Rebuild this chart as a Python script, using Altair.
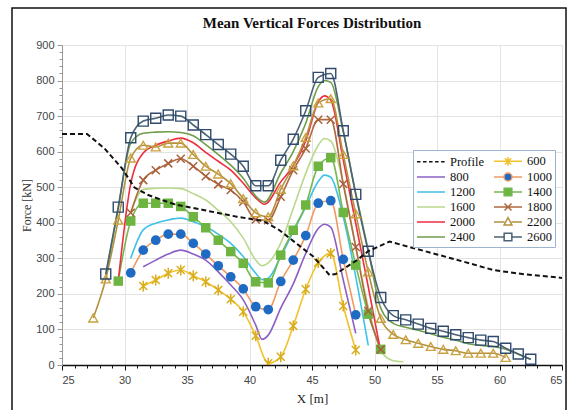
import altair as alt
import pandas as pd

# ---------------- data ----------------
series_names = ["Profile", "600", "800", "1000", "1200", "1400",
                "1600", "1800", "2000", "2200", "2400", "2600"]

profile_x = [25, 27, 28.4, 29.8, 30.8, 31.9, 33, 34, 36.3, 39, 41.1, 42.4, 44, 45.1,
             46.4, 46.9, 48.6, 49.5, 51.2, 53, 55, 57.6, 59.5, 62, 65]
profile_y = [650, 650, 609, 553, 499, 478, 464, 452, 436, 417, 405, 379, 335, 305,
             253, 256, 295, 320, 347, 330, 311, 286, 267, 255, 245]

s600_x = [31.5, 32.5, 33.5, 34.5, 35.5, 36.5, 37.5, 38.5, 39.5, 40.5, 41.5, 42.5,
          43.5, 44.5, 45.5, 46.5, 47.5, 48.5]
s600_y = [222, 239, 258, 267, 251, 234, 211, 185, 150, 82, 5, 23,
          110, 213, 288, 314, 166, 42]

s800_x = [31.5, 32.5, 33.5, 34.5, 35.5, 36.5, 37.5, 38.5, 39.5, 40.5, 41, 41.5,
          42.5, 43.5, 44.5, 45.5, 46, 46.5, 47.5, 48.5]
s800_y = [276, 295, 312, 323, 312, 295, 262, 225, 183, 112, 72, 84,
          160, 228, 314, 384, 396, 388, 239, 89]

s1000_x = [30.5, 31.5, 32.5, 33.5, 34.5, 35.5, 36.5, 37.5, 38.5, 39.5, 40.5, 41.5,
           42.5, 43.5, 44.5, 45.5, 46.5, 47.5, 48.5]
s1000_y = [259, 323, 351, 368, 368, 342, 312, 279, 248, 214, 164, 156,
           235, 295, 364, 455, 462, 297, 141]

s1200_x = [30.5, 31.5, 32.5, 33.5, 34.5, 35.5, 36.5, 37.5, 38.5, 39.5, 40.5, 41,
           41.5, 42.5, 43.5, 44.5, 45.5, 46, 46.5, 47.5, 48.5, 49.5]
s1200_y = [300, 380, 399, 408, 413, 403, 389, 368, 342, 305, 258, 240,
           244, 305, 375, 445, 516, 534, 528, 417, 248, 55]

s1400_x = [29.5, 30.5, 31.5, 32.5, 33.5, 34.5, 35.5, 36.5, 37.5, 38.5, 39.5, 40.5,
           41.5, 42.5, 43.5, 44.5, 45.5, 46.5, 47.5, 48.5, 49.5, 50.5]
s1400_y = [236, 405, 455, 455, 455, 446, 417, 386, 351, 319, 286, 234,
           231, 309, 379, 450, 559, 583, 429, 281, 143, 44]

s1600_x = [30.5, 31.5, 32.5, 33.5, 34.5, 35.5, 36.5, 37.5, 38.5, 39.5, 40.5, 41,
           41.5, 42.5, 43.5, 44.5, 45.5, 46, 46.5, 47.5, 48.5, 49.5, 50.5, 51.5, 52.3]
s1600_y = [430, 494, 497, 498, 496, 482, 464, 435, 403, 357, 295, 279,
           287, 343, 440, 539, 618, 637, 630, 511, 333, 164, 40, 12, 9]

s1800_x = [30.5, 31.5, 32.5, 33.5, 34.5, 35.5, 36.5, 37.5, 38.5, 39.5, 40.5, 41.5,
           42.5, 43.5, 44.5, 45.5, 46.5, 47.5, 48.5, 49.5, 50.5]
s1800_y = [428, 520, 548, 567, 580, 559, 531, 508, 492, 459, 409, 407,
           473, 548, 609, 690, 690, 509, 332, 152, 44]

s2000_x = [29.5, 30.5, 31.5, 32.5, 33.5, 34.5, 35.5, 36.5, 37.5, 38.5, 39.5, 40.5,
           41.2, 42.5, 43.5, 44.5, 45.5, 46, 46.5, 47.5, 48.5, 49.5, 50.5]
s2000_y = [236, 510, 596, 618, 630, 638, 625, 598, 573, 548, 511, 470,
           452, 515, 560, 630, 740, 757, 745, 576, 398, 220, 37]

s2200_x = [27.5, 28.5, 29.5, 30.5, 31.5, 32.5, 33.5, 34.5, 35.5, 36.5, 37.5, 38.5,
           39.5, 40.5, 41.5, 42.5, 43.5, 44.5, 45.5, 46.5, 47.5, 48.5, 49.5, 50.5,
           51.5, 52.5, 53.5, 54.5, 55.5, 56.5, 57.5, 58.5, 59.5, 60.5]
s2200_y = [132, 242, 407, 582, 618, 613, 624, 624, 592, 559, 537, 510,
           468, 428, 417, 494, 560, 640, 737, 749, 592, 425, 262, 131,
           86, 71, 61, 52, 44, 40, 33, 33, 33, 21]

s2400_x = [28.5, 29.5, 30.5, 31.5, 32.5, 33.5, 34.5, 35.5, 36.5, 37.5, 38.5, 39.5,
           40.5, 41.2, 42.5, 43.5, 44.5, 45.5, 46, 46.5, 47.5, 48.5, 49.5, 50.5,
           51.5, 52.5, 53.5, 54.5, 55.5, 56.5, 57.5, 58.5, 59.5, 60.5, 61.5, 62.5]
s2400_y = [250, 440, 624, 652, 655, 656, 654, 645, 620, 592, 562, 525,
           475, 458, 540, 600, 680, 783, 800, 795, 656, 483, 323, 160,
           117, 106, 98, 88, 78, 70, 60, 55, 52, 44, 30, 16]

s2600_x = [28.5, 29.5, 30.5, 31.5, 32.5, 33.5, 34.5, 35.5, 36.5, 37.5, 38.5, 39.5,
           40.5, 41.5, 42.5, 43.5, 44.5, 45.5, 46.5, 47.5, 48.5, 49.5, 50.5, 51.5,
           52.5, 53.5, 54.5, 55.5, 56.5, 57.5, 58.5, 59.5, 60.5, 61.5, 62.5]
s2600_y = [256, 444, 639, 686, 694, 703, 700, 675, 648, 620, 593, 559,
           504, 504, 576, 635, 715, 809, 820, 659, 480, 320, 190, 139,
           127, 115, 103, 95, 85, 77, 70, 66, 47, 31, 16]

# ---------------- styles ----------------
line_colors = ["#111111", "#f2c12e", "#8b5fc4", "#f09a62", "#3fc1e8", "#74b94f",
               "#b8d98c", "#b0683f", "#ef2d40", "#b3913f", "#6f9e4a", "#4b6275"]
legend_fill = ["transparent", "transparent", "transparent", "#1f6bc4", "transparent",
               "#6db540", "transparent", "transparent", "transparent", "transparent",
               "transparent", "transparent"]

# legend symbol paths (unit = 7 px; horizontal span -2..2 = 28 px)
P_LINE = "M-2,0H2"
P_DASH = "M-2,0H-1.5M-1.14,0H-0.64M-0.28,0H0.22M0.58,0H1.08M1.44,0H1.94"
P_AST = "M-2,0H2M-0.45,-0.45L0.45,0.45M-0.45,0.45L0.45,-0.45M0,-0.62V0.62"
P_CIRC = "M-2,0H-0.57M0.57,0H2M0.57,0A0.57,0.57 0 1,1 -0.57,0A0.57,0.57 0 1,1 0.57,0Z"
P_SQ = "M-2,0H-0.55M0.55,0H2M-0.55,-0.55H0.55V0.55H-0.55Z"
P_X = "M-2,0H2M-0.5,-0.5L0.5,0.5M-0.5,0.5L0.5,-0.5"
P_TRI = "M-2,0H-0.5M0.5,0H2M0,-0.62L0.56,0.42L-0.56,0.42Z"
legend_shapes = [P_DASH, P_AST, P_LINE, P_CIRC, P_LINE, P_SQ,
                 P_LINE, P_X, P_LINE, P_TRI, P_LINE, P_SQ]

series_data = [
    ("Profile", profile_x, profile_y), ("600", s600_x, s600_y), ("800", s800_x, s800_y),
    ("1000", s1000_x, s1000_y), ("1200", s1200_x, s1200_y), ("1400", s1400_x, s1400_y),
    ("1600", s1600_x, s1600_y), ("1800", s1800_x, s1800_y), ("2000", s2000_x, s2000_y),
    ("2200", s2200_x, s2200_y), ("2400", s2400_x, s2400_y), ("2600", s2600_x, s2600_y),
]
rows = []
for name, xs, ys in series_data:
    for xv, yv in zip(xs, ys):
        rows.append({"series": name, "x": xv, "y": yv})
df = pd.DataFrame(rows)

legend_df = pd.DataFrame({"series": series_names, "x": [-100] * len(series_names),
                          "y": [0] * len(series_names)})

# ---------------- encodings ----------------
x_axis = alt.Axis(
    values=list(range(25, 66)),
    labelExpr="datum.value % 5 == 0 ? datum.label : ''",
    tickSize={"condition": {"test": "datum.value % 5 == 0", "value": 5}, "value": 3},
    gridOpacity={"condition": {"test": "datum.value % 5 == 0", "value": 1}, "value": 0},
    gridColor="#e3e3e3", domainColor="#111111", domainWidth=1.6, tickColor="#111111",
    labelFont="Liberation Sans", labelFontSize=11, labelColor="#444444", labelPadding=4,
    labelOverlap=False, titleFont="Liberation Serif", titleFontSize=13,
    titleFontWeight="normal", titleColor="#222222", titlePadding=7,
)
y_axis = alt.Axis(
    values=list(range(0, 901, 20)),
    labelExpr="datum.value % 100 == 0 ? datum.label : ''",
    tickSize={"condition": {"test": "datum.value % 100 == 0", "value": 5}, "value": 3},
    gridOpacity={"condition": {"test": "datum.value % 100 == 0", "value": 1}, "value": 0},
    gridColor="#e3e3e3", domainColor="#999999", tickColor="#999999",
    labelFont="Liberation Sans", labelFontSize=11, labelColor="#444444", labelPadding=3,
    labelOverlap=False, titleFont="Liberation Serif", titleFontSize=12,
    titleFontWeight="normal", titleColor="#333333", titlePadding=2,
)
xenc = alt.X("x:Q", scale=alt.Scale(domain=[25, 65], nice=False), axis=x_axis, title="X [m]")
yenc = alt.Y("y:Q", scale=alt.Scale(domain=[0, 900], nice=False), axis=y_axis, title="Force [kN]")

legend = alt.Legend(
    title=None, orient="none", legendX=351, legendY=105, columns=2,
    direction="horizontal",
    symbolSize=196, symbolStrokeWidth=1.5, symbolOffset=7, labelOffset=11,
    labelFont="Liberation Serif", labelFontSize=12.5, labelColor="#111111",
    rowPadding=0, columnPadding=6, padding=3, strokeColor="#9db4d0", fillColor="white",
)
stroke_enc = alt.Stroke("series:N", scale=alt.Scale(domain=series_names, range=line_colors),
                        legend=legend)

base = alt.Chart(df)

frame = alt.Chart(legend_df.head(1)).mark_rect(
    fillOpacity=0, stroke="#111111", strokeWidth=1.5, clip=False
).encode(x=alt.value(-50), x2=alt.value(504), y=alt.value(-37), y2=alt.value(370))

lines = base.transform_filter(alt.datum.series != "Profile").mark_line(
    interpolate="monotone", strokeWidth=1.6, clip=True
).encode(x=xenc, y=yenc, stroke=stroke_enc, order="x:Q")

profile = base.transform_filter(alt.datum.series == "Profile").mark_line(
    strokeWidth=2, strokeDash=[5, 3], clip=True
).encode(x=xenc, y=yenc, stroke=stroke_enc, order="x:Q")


def markers(name, **kw):
    return base.transform_filter(alt.datum.series == name).mark_point(
        clip=True, **kw).encode(x=xenc, y=yenc)


m600 = markers("600", shape="M-1,-1L1,1M-1,1L1,-1M0,-1.35V1.35", size=64,
               filled=False, stroke="#d9ad1c", strokeWidth=1.5, opacity=1)
m1000 = markers("1000", shape="circle", size=95, filled=True, fill="#1f6bc4",
                opacity=1)
m1400 = markers("1400", shape="square", size=90, filled=True, fill="#6db540",
                opacity=1)
m1800 = markers("1800", shape="M-1,-1L1,1M-1,1L1,-1", size=64, filled=False,
                stroke="#a9603a", strokeWidth=1.5, opacity=1)
m2200 = markers("2200", shape="triangle-up", size=80, filled=False,
                stroke="#c9a23f", strokeWidth=1.4, opacity=1)
m2600 = markers("2600", shape="square", size=100, filled=False,
                stroke="#2f4a6c", strokeWidth=1.4, opacity=1)

legend_layer = alt.Chart(legend_df).mark_point(clip=True, strokeWidth=1.5, opacity=1).encode(
    x=xenc, y=yenc, stroke=stroke_enc,
    fill=alt.Fill("series:N", scale=alt.Scale(domain=series_names, range=legend_fill),
                  legend=legend),
    shape=alt.Shape("series:N", scale=alt.Scale(domain=series_names, range=legend_shapes),
                    legend=legend),
)

chart = alt.layer(
    frame, lines, m600, m1000, m1400, m1800, m2200, m2600, profile, legend_layer
).properties(
    width=500, height=320,
    title=alt.TitleParams("Mean Vertical Forces Distribution", font="Liberation Serif",
                          fontSize=15, fontWeight="bold", color="#111111",
                          anchor="middle", offset=8, dy=32),
    autosize=alt.AutoSizeParams(type="none"),
    padding={"left": 62, "top": 45, "right": 5, "bottom": 45},
).configure_view(stroke=None).configure(background="white")

chart.save("out.html", embed_options={"renderer": "svg", "actions": False})
